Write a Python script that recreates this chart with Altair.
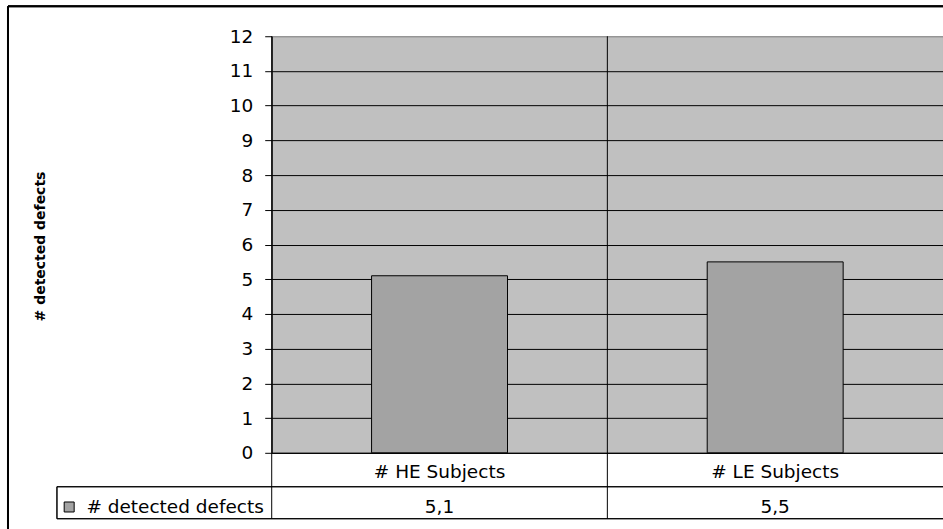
import altair as alt
import pandas as pd

categories = ["# HE Subjects", "# LE Subjects"]
values = [5.1, 5.5]
series_name = "# detected defects"
y_ticks = list(range(0, 13))

df = pd.DataFrame({
    "category": categories,
    "value": values,
    "series": [series_name] * len(categories),
})

FONT = "DejaVu Sans"
FS = 18.5
W, H = 672, 417

x_enc = alt.X(
    "category:N",
    sort=categories,
    scale=alt.Scale(paddingInner=0, paddingOuter=0),
    axis=alt.Axis(
        title=None, labelAngle=0, labelFontSize=FS, labelFont=FONT, labelColor="black",
        ticks=False, tickSize=0, domain=True, domainColor="black", domainWidth=1,
        labelPadding=25, labelBaseline="alphabetic", grid=False,
    ),
)

base = alt.Chart(df)

bars = base.mark_bar(stroke="black", strokeWidth=1, width=alt.RelativeBandSize(0.405)).encode(
    x=x_enc,
    y=alt.Y(
        "value:Q",
        scale=alt.Scale(domain=[0, 12], nice=False, zero=True),
        axis=alt.Axis(
            values=y_ticks, title=series_name, titleFont=FONT, titleFontSize=14,
            titleFontWeight="bold", titleColor="black", titleAngle=270,
            titleX=-231, titleY=210, titleAlign="center", titleBaseline="middle",
            labelFont=FONT, labelFontSize=FS, labelColor="black", labelPadding=12,
            tickSize=7, tickColor="black", domainColor="black",
            grid=True,
            gridColor={"condition": {"test": "datum.value == 12", "value": "#909090"}, "value": "black"},
            gridWidth=1,
        ),
    ),
    color=alt.Color(
        "series:N",
        scale=alt.Scale(range=["#A3A3A3"]),
        legend=alt.Legend(
            orient="none", legendX=-212, legendY=462, title=None, padding=0,
            symbolType="square", symbolSize=100, symbolStrokeColor="black",
            symbolStrokeWidth=1, labelFont=FONT, labelFontSize=FS, labelColor="black",
            labelOffset=8, labelLimit=400,
        ),
    ),
)

values_row = base.mark_text(fontSize=FS, font=FONT, color="black", baseline="alphabetic").transform_calculate(
    label="replace(format(datum.value, '.1f'), '.', ',')"
).encode(
    x=alt.X("category:N", sort=categories),
    y=alt.value(477),
    text="label:N",
)

separators = base.mark_rule(color="black", strokeWidth=1).encode(
    x=alt.X("category:N", sort=categories, bandPosition=0),
    y=alt.value(0),
    y2=alt.value(483),
)

line_mid = base.mark_rule(color="black", strokeWidth=1).encode(
    x=alt.value(-215), x2=alt.value(W), y=alt.value(451)
)
line_bot = base.mark_rule(color="black", strokeWidth=1).encode(
    x=alt.value(-215), x2=alt.value(W), y=alt.value(483)
)
line_leg = base.mark_rule(color="black", strokeWidth=1).encode(
    x=alt.value(-215), y=alt.value(451), y2=alt.value(483)
)
border_top = base.mark_rule(color="black", strokeWidth=2).encode(
    x=alt.value(-264), x2=alt.value(W), y=alt.value(-30)
)
border_left = base.mark_rule(color="black", strokeWidth=2).encode(
    x=alt.value(-264), y=alt.value(-30), y2=alt.value(500)
)

chart = alt.layer(
    bars, separators, values_row, line_mid, line_bot, line_leg, border_top, border_left
).properties(
    width=W,
    height=H,
    autosize=alt.AutoSizeParams(type="none"),
    padding={"left": 272, "top": 36, "right": 0, "bottom": 76},
    background="white",
).configure_view(
    fill="#C0C0C0", stroke="#909090", strokeWidth=1
)

chart.save("out.html", embed_options={"renderer": "svg", "actions": False})
